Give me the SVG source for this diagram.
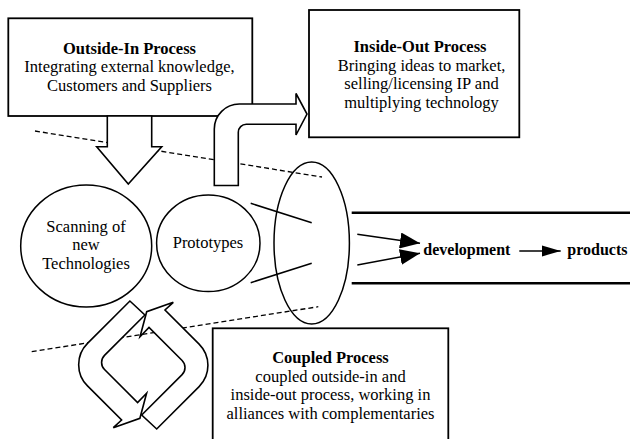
<svg xmlns="http://www.w3.org/2000/svg" width="630" height="439" viewBox="0 0 630 439">
<style>
  .box { fill: #fff; stroke: #000; stroke-width: 1.8; }
  .shape { fill: none; stroke: #000; stroke-width: 1.5; }
  .blk { fill: #fff; stroke: #000; stroke-width: 1.6; stroke-linejoin: miter; }
  .dash { fill: none; stroke: #000; stroke-width: 1.3; stroke-dasharray: 5 3; }
  .ln { fill: none; stroke: #000; stroke-width: 1.5; }
  .rail { fill: none; stroke: #000; stroke-width: 2.6; }
  text { font-family: "Liberation Serif", "Times New Roman", serif; font-size: 16.5px; fill: #000; }
  .t { font-weight: bold; }
  .c { text-anchor: middle; }
  .lbl { font-weight: bold; font-size: 16px; }
</style>
<defs>
  <marker id="headL" markerUnits="userSpaceOnUse" markerWidth="22" markerHeight="16" refX="20" refY="8" orient="auto">
    <path d="M0,0 L20,8 L0,16 Z" fill="#000"/>
  </marker>
  <marker id="headS" markerUnits="userSpaceOnUse" markerWidth="21" markerHeight="12" refX="19" refY="6" orient="auto">
    <path d="M0,0.5 L19,6 L0,11.5 Z" fill="#000"/>
  </marker>
</defs>
<rect width="630" height="439" fill="#fff"/>

<g id="boundaries">
  <line class="dash" x1="35" y1="131" x2="322" y2="177"/>
  <line class="dash" x1="31.7" y1="351.7" x2="318.3" y2="306.7"/>
</g>

<g id="outside-in">
  <rect class="box" x="8.3" y="18.3" width="244" height="97.7"/>
  <text class="c" x="129.5" y="54"><tspan class="t">Outside-In Process</tspan><tspan x="129.5" y="72.3">Integrating external knowledge,</tspan><tspan x="129.5" y="90.7">Customers and Suppliers</tspan></text>
</g>

<g id="inside-out">
  <rect class="box" x="309" y="10" width="210.3" height="127.3"/>
  <text class="c" x="420" y="52.3"><tspan class="t">Inside-Out Process</tspan><tspan x="421.5" y="70.8">Bringing ideas to market,</tspan><tspan x="421.5" y="89.3">selling/licensing IP and</tspan><tspan x="421.5" y="108">multiplying technology</tspan></text>
</g>

<g id="scanning">
  <ellipse class="shape" cx="86.2" cy="246" rx="65.5" ry="61"/>
  <text class="c" x="86" y="231.7">Scanning of<tspan x="86" y="250.3">new</tspan><tspan x="86" y="269">Technologies</tspan></text>
</g>

<g id="prototypes">
  <ellipse class="shape" cx="208.3" cy="243.3" rx="51.7" ry="48.3"/>
  <text class="c" x="208" y="248">Prototypes</text>
</g>

<g id="funnel">
  <ellipse class="shape" cx="311.7" cy="243" rx="37.7" ry="81"/>
</g>

<g id="channel">
  <line class="rail" x1="351.7" y1="212.7" x2="630" y2="212.7"/>
  <line class="rail" x1="351.7" y1="283.3" x2="630" y2="283.3"/>
</g>

<g id="development">
  <text class="lbl" x="423.3" y="255">development</text>
</g>

<g id="products">
  <text class="lbl" x="567.3" y="255">products</text>
</g>

<g id="coupled">
  <rect class="box" x="212.7" y="328.3" width="235.6" height="120"/>
  <text class="c" x="330.5" y="362.5"><tspan class="t">Coupled Process</tspan><tspan x="330.5" y="381.5">coupled outside-in and</tspan><tspan x="330.5" y="400.3">inside-out process, working in</tspan><tspan x="330.5" y="419">alliances with complementaries</tspan></text>
</g>

<g id="connectors">
  <polygon class="blk" points="107.3,116 151.7,116 151.7,146.7 161.7,146.7 128.3,184 96.7,146.7 107.3,146.7"/>
  <path class="blk" d="M214.3,185.5 L214.3,129 A25,25 0 0 1 239.3,104 L296,104 L296,93.5 L307,114 L296,135 L296,124.3 L246.3,124.3 A8,8 0 0 0 238.3,132.3 L238.3,185.5 Z"/>
  <g id="cycle">
    <path class="blk" d="M141.7,415 L182.1,374.6 A10,10 0 0 0 182.1,360.5 L149,327.4 L140,336.7 L146.7,311.7 L173.3,302.3 L165,310 L199.1,344.1 A30,30 0 0 1 199.1,386.6 L156.7,429 Z"/>
    <path class="blk" transform="rotate(180 143.3 365)" d="M141.7,415 L182.1,374.6 A10,10 0 0 0 182.1,360.5 L149,327.4 L140,336.7 L146.7,311.7 L173.3,302.3 L165,310 L199.1,344.1 A30,30 0 0 1 199.1,386.6 L156.7,429 Z"/>
  </g>
  <line class="ln" x1="250.7" y1="203.3" x2="311.7" y2="222.7"/>
  <line class="ln" x1="250.7" y1="282.7" x2="311.7" y2="263.3"/>
  <line class="ln" x1="357.3" y1="234.3" x2="420" y2="243.3" marker-end="url(#headL)"/>
  <line class="ln" x1="357.3" y1="265" x2="420" y2="253.3" marker-end="url(#headL)"/>
  <line class="ln" x1="519.3" y1="251" x2="560.7" y2="251" marker-end="url(#headS)"/>
</g>
</svg>
